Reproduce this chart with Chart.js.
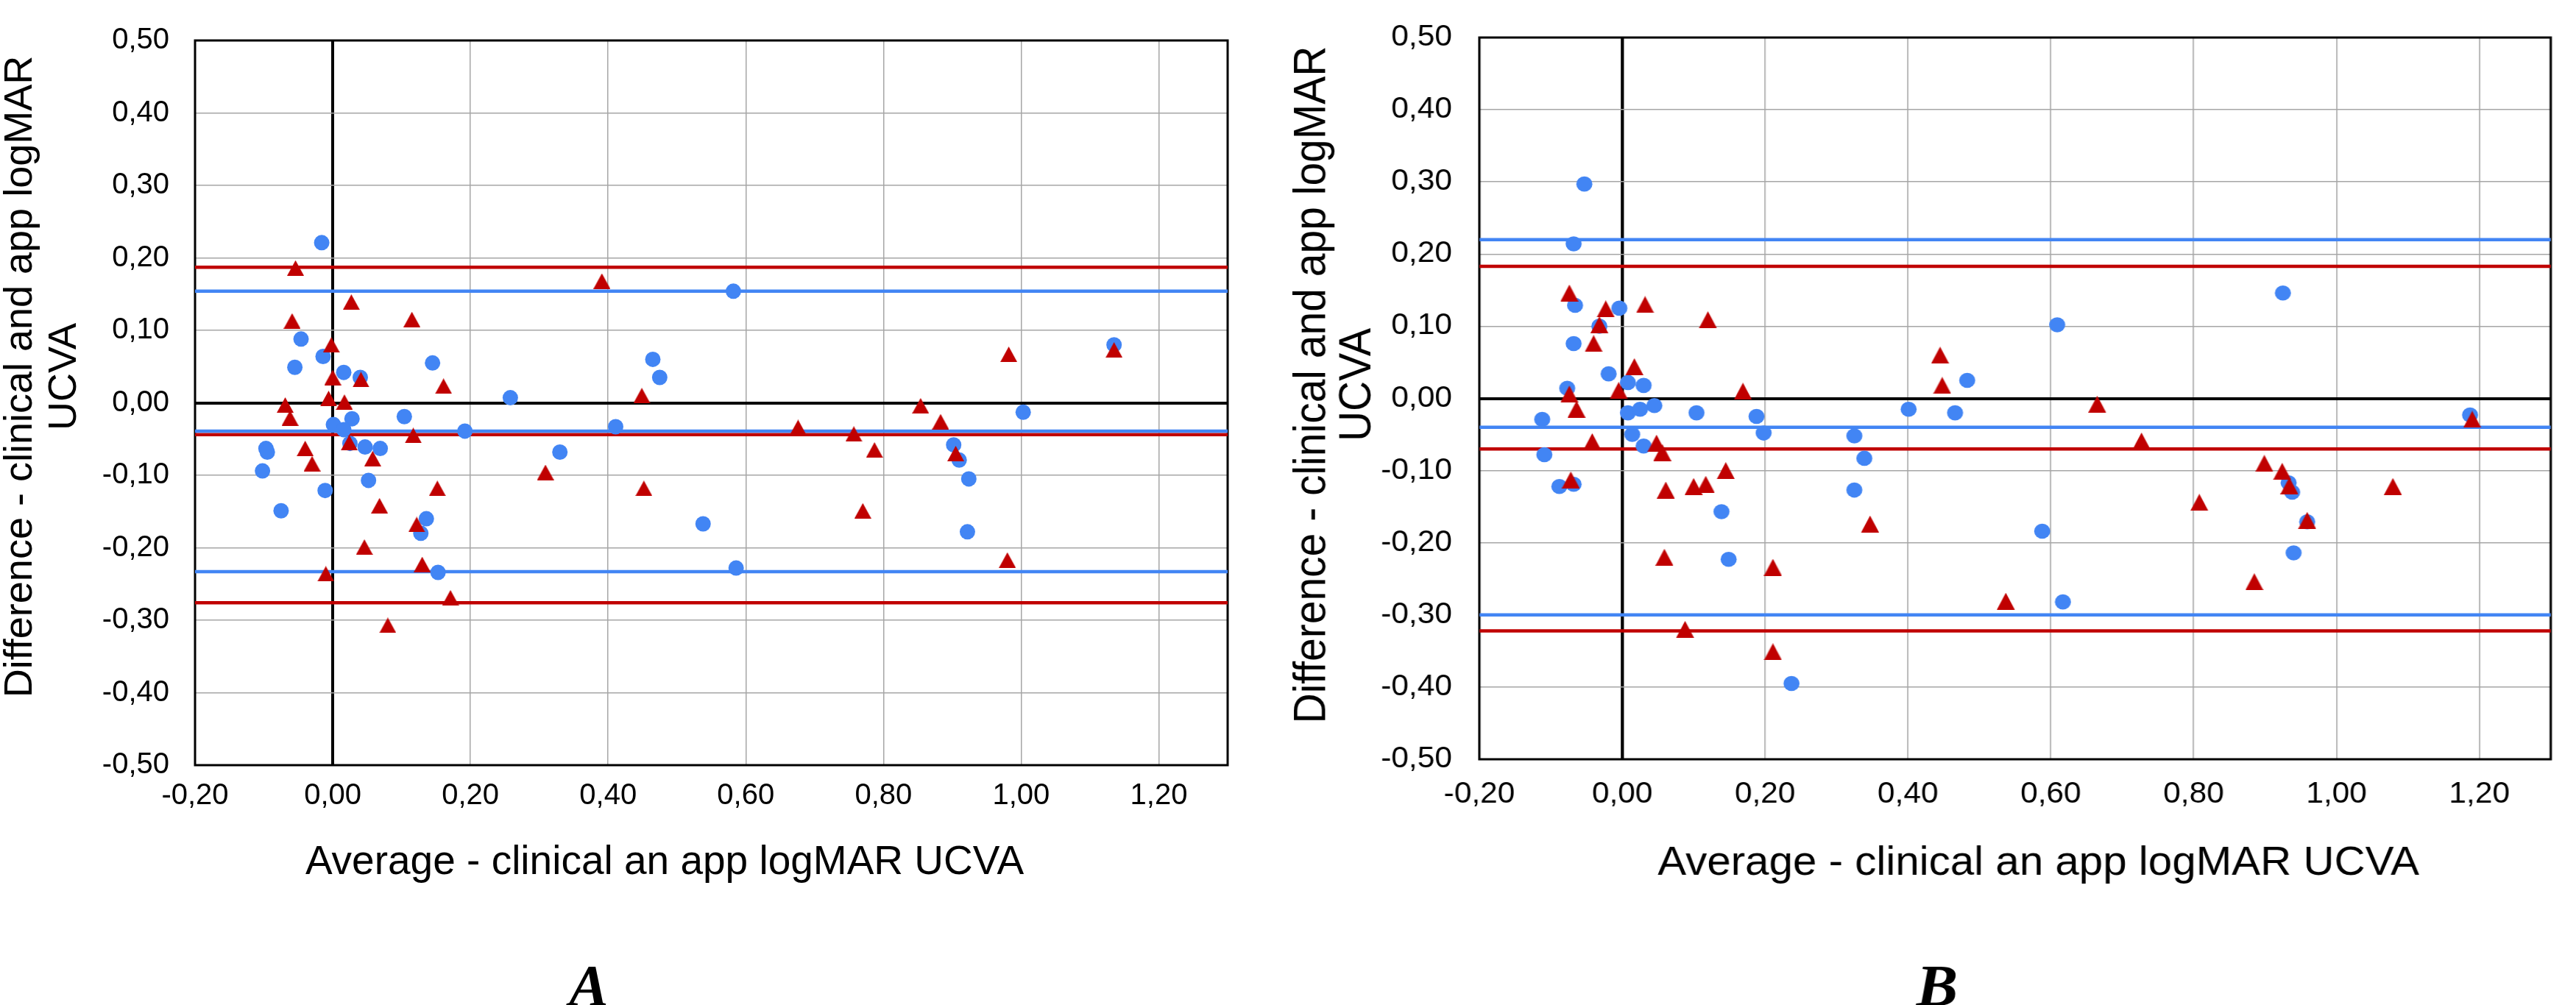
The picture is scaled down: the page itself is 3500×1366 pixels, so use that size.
<!DOCTYPE html>
<html>
<head>
<meta charset="utf-8">
<script src="https://cdn.jsdelivr.net/npm/chart.js@4.4.1/dist/chart.umd.min.js"></script>
<style>
    html, body { margin: 0; padding: 0; background: #fff; overflow: hidden; width: 3500px; height: 1366px; }
    .panel { position: absolute; top: 0; }
    #wrapA { left: -10px; }
    /* panel B of the figure is a little wider than A, stretched sideways */
    #wrapB { left: 1740px; transform: scaleX(1.06); transform-origin: 0 0; }
</style>
</head>
<body>
<div id="wrapA" class="panel"><canvas id="chartA" width="1700" height="1366"></canvas></div>
<div id="wrapB" class="panel"><canvas id="chartB" width="1660" height="1366"></canvas></div>
<script>
const X_MIN = -0.2, X_MAX = 1.3, X_STEP = 0.2;
const Y_MIN = -0.5, Y_MAX = 0.5, Y_STEP = 0.1;

const yTitle = ['Difference - clinical and app logMAR', 'UCVA'];
const xTitle = 'Average - clinical an app logMAR UCVA';

// [average, difference]
const aCircles = [
    [-0.016, 0.221], [-0.046, 0.088], [-0.014, 0.064], [-0.055, 0.049], [0.016, 0.042],
    [0.040, 0.035], [0.145, 0.055], [0.258, 0.007], [0.028, -0.022], [0.001, -0.030],
    [0.016, -0.037], [0.104, -0.019], [0.192, -0.039], [-0.097, -0.063], [-0.095, -0.068],
    [0.025, -0.056], [0.047, -0.061], [0.069, -0.063], [-0.102, -0.094], [0.052, -0.107],
    [-0.011, -0.121], [-0.075, -0.149], [0.136, -0.160], [0.128, -0.180], [0.153, -0.234],
    [0.582, 0.154], [0.465, 0.060], [0.475, 0.035], [0.411, -0.033], [0.330, -0.068],
    [0.538, -0.167], [0.586, -0.228], [0.902, -0.058], [0.910, -0.079], [0.924, -0.105],
    [0.922, -0.178], [1.003, -0.013], [1.135, 0.080]
];
const aTriangles = [
    [-0.054, 0.186], [0.027, 0.139], [-0.059, 0.113], [0.115, 0.115], [-0.002, 0.080],
    [0.000, 0.035], [0.041, 0.032], [0.161, 0.023], [-0.006, 0.006], [0.017, 0.001],
    [-0.069, -0.003], [-0.062, -0.021], [0.024, -0.055], [0.117, -0.045], [-0.040, -0.063],
    [-0.030, -0.084], [0.058, -0.077], [0.152, -0.118], [0.068, -0.142], [0.122, -0.168],
    [0.046, -0.199], [0.130, -0.223], [-0.010, -0.236], [0.171, -0.269], [0.080, -0.307],
    [0.391, 0.168], [0.449, 0.010], [0.309, -0.096], [0.452, -0.118], [0.676, -0.034],
    [0.757, -0.043], [0.787, -0.065], [0.770, -0.149], [0.854, -0.004], [0.883, -0.026],
    [0.905, -0.070], [0.982, 0.067], [0.980, -0.217], [1.135, 0.073]
];
// upper limit, mean, lower limit
const aCircleLimits = [0.154, -0.039, -0.233];
const aTriangleLimits = [0.187, -0.044, -0.276];

const bCircles = [
    [-0.053, 0.297], [-0.068, 0.214], [-0.066, 0.129], [-0.004, 0.125], [-0.032, 0.100],
    [-0.068, 0.076], [-0.019, 0.034], [0.008, 0.022], [0.030, 0.018], [-0.077, 0.014],
    [-0.112, -0.029], [0.008, -0.020], [0.025, -0.015], [0.045, -0.010], [0.104, -0.020],
    [0.188, -0.025], [0.198, -0.048], [0.014, -0.050], [0.030, -0.066], [-0.109, -0.078],
    [-0.088, -0.122], [-0.068, -0.119], [0.139, -0.157], [0.149, -0.223], [0.237, -0.395],
    [0.325, -0.052], [0.339, -0.083], [0.325, -0.127], [0.925, 0.146], [0.609, 0.102],
    [0.483, 0.025], [0.401, -0.015], [0.466, -0.020], [0.588, -0.184], [0.617, -0.282],
    [0.933, -0.117], [0.938, -0.130], [0.959, -0.171], [0.940, -0.214], [1.187, -0.023]
];
const bTriangles = [
    [-0.074, 0.146], [-0.023, 0.124], [0.032, 0.130], [-0.032, 0.102], [0.120, 0.109],
    [-0.040, 0.076], [0.017, 0.044], [-0.005, 0.011], [-0.074, 0.006], [0.169, 0.010],
    [-0.064, -0.015], [-0.042, -0.060], [0.048, -0.062], [0.056, -0.075], [0.145, -0.100],
    [-0.072, -0.113], [0.061, -0.127], [0.100, -0.122], [0.117, -0.119], [0.347, -0.174],
    [0.059, -0.220], [0.211, -0.234], [0.088, -0.320], [0.211, -0.351], [0.445, 0.060],
    [0.448, 0.018], [0.665, -0.008], [0.727, -0.059], [0.899, -0.090], [0.924, -0.101],
    [0.934, -0.121], [0.808, -0.144], [0.959, -0.169], [1.079, -0.122], [0.885, -0.254],
    [0.537, -0.281], [1.190, -0.029]
];
const bCircleLimits = [0.220, -0.040, -0.300];
const bTriangleLimits = [0.183, -0.070, -0.322];

const BLUE = '#4285f4';
const RED = '#c00000';
const GRID = '#a6a6a6';
const SANS = "'Liberation Sans', Arial, sans-serif";

Chart.defaults.font.family = SANS;
Chart.defaults.color = '#000';

const isZero = v => Math.abs(v) < 1e-9;
const fmt = function (v) {
    if (isZero(v)) v = 0;
    return v.toFixed(2).replace('.', ',');
};
const onStep = function (v) {
    const k = (v - X_MIN) / X_STEP;
    return Math.abs(k - Math.round(k)) < 1e-6;
};

// excel-like triangle marker, centred on its box
const triangleImage = function (w, h, color) {
    const c = document.createElement('canvas');
    c.width = w;
    c.height = h;
    const g = c.getContext('2d');
    g.fillStyle = color;
    g.beginPath();
    g.moveTo(w / 2, 0);
    g.lineTo(w, h);
    g.lineTo(0, h);
    g.closePath();
    g.fill();
    return c;
};

const limitLine = (v, color, width) => ({
    type: 'line',
    data: [{ x: X_MIN, y: v }, { x: X_MAX, y: v }],
    borderColor: color,
    borderWidth: width,
    pointRadius: 0,
    fill: false,
    order: 3
});

// frame around the plot area, axis titles and panel letter
const panelTextPlugin = {
    id: 'panelText',
    beforeDatasetsDraw(chart, args, opts) {
        const { ctx, chartArea: a } = chart;
        ctx.save();
        ctx.strokeStyle = '#000';
        ctx.lineWidth = 3;
        ctx.strokeRect(a.left, a.top, a.right - a.left, a.bottom - a.top);
        ctx.restore();
    },
    afterDraw(chart, args, opts) {
        const { ctx, chartArea: a } = chart;
        ctx.save();
        ctx.fillStyle = '#000';
        ctx.textAlign = 'center';
        ctx.textBaseline = 'alphabetic';

        ctx.font = `${opts.yTitleSize}px ${SANS}`;
        opts.yTitle.forEach((line, i) => {
            ctx.save();
            ctx.translate(opts.yTitleBaselines[i], opts.yTitleCenter);
            ctx.rotate(-Math.PI / 2);
            ctx.fillText(line, 0, 0);
            ctx.restore();
        });

        ctx.font = `${opts.captionSize}px ${SANS}`;
        ctx.fillText(opts.caption, (a.left + a.right) / 2 + opts.captionDx, opts.captionY);

        ctx.font = `italic bold ${opts.letterSize}px 'Liberation Serif', 'Times New Roman', serif`;
        ctx.fillText(opts.letter, opts.letterX, opts.letterY);
        ctx.restore();
    }
};

const makePanel = function (cfg) {
    const tickFont = { size: 40, lineHeight: cfg.tickLineHeight };
    const gridColor = c => isZero(c.tick.value) ? '#000' : GRID;
    const gridWidth = c => isZero(c.tick.value) ? 4 : 1.5;

    return new Chart(document.getElementById(cfg.canvas), {
        type: 'scatter',
        data: {
            datasets: [
                limitLine(cfg.circleLimits[0], BLUE, cfg.lineWidth),
                limitLine(cfg.circleLimits[1], BLUE, cfg.lineWidth),
                limitLine(cfg.circleLimits[2], BLUE, cfg.lineWidth),
                limitLine(cfg.triangleLimits[0], RED, cfg.lineWidth),
                limitLine(cfg.triangleLimits[1], RED, cfg.lineWidth),
                limitLine(cfg.triangleLimits[2], RED, cfg.lineWidth),
                {
                    data: cfg.circles.map(p => ({ x: p[0], y: p[1] })),
                    pointStyle: 'circle',
                    pointRadius: cfg.circleRadius,
                    pointBackgroundColor: BLUE,
                    pointBorderColor: BLUE,
                    pointBorderWidth: 0,
                    order: 2
                },
                {
                    data: cfg.triangles.map(p => ({ x: p[0], y: p[1] })),
                    pointStyle: triangleImage(cfg.tri[0], cfg.tri[1], RED),
                    pointRadius: 11,
                    pointBackgroundColor: RED,
                    pointBorderWidth: 0,
                    order: 1
                }
            ]
        },
        options: {
            responsive: false,
            animation: false,
            devicePixelRatio: 1,
            events: [],
            layout: { padding: cfg.padding },
            scales: {
                x: {
                    type: 'linear',
                    min: X_MIN,
                    max: X_MAX,
                    border: { display: false },
                    grid: { color: gridColor, lineWidth: gridWidth, drawTicks: false, tickLength: 0 },
                    ticks: {
                        stepSize: X_STEP,
                        autoSkip: false,
                        maxRotation: 0,
                        padding: cfg.xTickPad,
                        color: '#000',
                        font: tickFont,
                        callback: v => onStep(v) ? fmt(v) : ''
                    },
                    afterFit: s => { s.height = cfg.xAxisHeight; }
                },
                y: {
                    type: 'linear',
                    min: Y_MIN,
                    max: Y_MAX,
                    border: { display: false },
                    grid: { color: gridColor, lineWidth: gridWidth, drawTicks: false, tickLength: 0 },
                    ticks: {
                        stepSize: Y_STEP,
                        padding: cfg.yTickPad,
                        color: '#000',
                        font: tickFont,
                        callback: v => fmt(v)
                    },
                    afterFit: s => { s.width = cfg.yAxisWidth; }
                }
            },
            plugins: {
                legend: { display: false },
                tooltip: { enabled: false },
                panelText: {
                    yTitle: yTitle,
                    yTitleSize: cfg.yTitleSize,
                    yTitleBaselines: cfg.yTitleBaselines,
                    yTitleCenter: cfg.yTitleCenter,
                    caption: xTitle,
                    captionSize: 55,
                    captionDx: cfg.captionDx,
                    captionY: cfg.captionY,
                    letter: cfg.letter,
                    letterSize: 80,
                    letterX: cfg.letterX,
                    letterY: 1367
                }
            }
        },
        plugins: [panelTextPlugin]
    });
};

makePanel({
    canvas: 'chartA', letter: 'A',
    circles: aCircles, triangles: aTriangles,
    circleLimits: aCircleLimits, triangleLimits: aTriangleLimits,
    padding: { top: 19.6, right: 20, bottom: 0, left: 0 },
    yAxisWidth: 275, xAxisHeight: 326,
    tickLineHeight: 1, xTickPad: 22, yTickPad: 35,
    yTitleSize: 54, yTitleBaselines: [53, 113], yTitleCenter: 512,
    captionDx: -63.5, captionY: 1188, letterX: 810,
    lineWidth: 4.5, circleRadius: 10.5, tri: [23, 21]
});

makePanel({
    canvas: 'chartB', letter: 'B',
    circles: bCircles, triangles: bTriangles,
    circleLimits: bCircleLimits, triangleLimits: bTriangleLimits,
    padding: { top: 17.5, right: 3.4, bottom: 0, left: 0 },
    yAxisWidth: 254.7, xAxisHeight: 334,
    tickLineHeight: 0.8, xTickPad: 32, yTickPad: 35,
    yTitleSize: 57, yTitleBaselines: [56.6, 115], yTitleCenter: 523,
    captionDx: 30, captionY: 1189, letterX: 841.5,
    lineWidth: 4.5, circleRadius: 10.3, tri: [23, 23]
});
</script>
</body>
</html>
